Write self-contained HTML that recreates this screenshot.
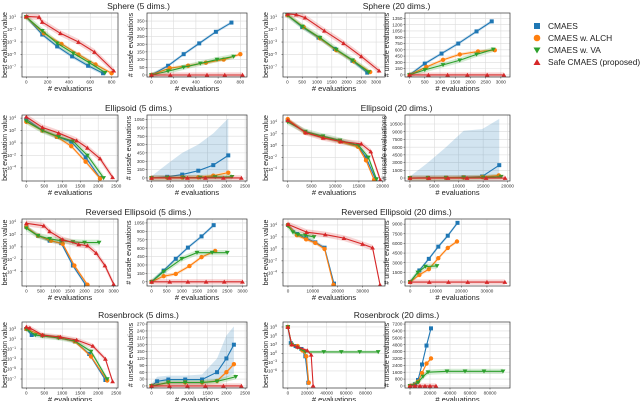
<!DOCTYPE html>
<html><head><meta charset="utf-8"><style>
html,body{margin:0;padding:0;background:#fff}
svg{display:block;font-family:"Liberation Sans","DejaVu Sans",sans-serif}
</style></head>
<body>
<svg id="fig" width="640" height="401" viewBox="0 0 640 401" xmlns="http://www.w3.org/2000/svg">
<g id="legend">
 <g><rect x="534" y="23" width="6" height="6" fill="#1f77b4"/><text x="548" y="29" font-size="8.4" fill="#222">CMAES</text></g>
 <g><circle cx="537" cy="38" r="3.3" fill="#ff7f0e"/><text x="548" y="41" font-size="8.4" fill="#222">CMAES w. ALCH</text></g>
 <g><path d="M533.5,47.5 L540.5,47.5 L537,53.5 Z" fill="#2ca02c"/><text x="548" y="53" font-size="8.4" fill="#222">CMAES w. VA</text></g>
 <g><path d="M533.5,65 L540.5,65 L537,59 Z" fill="#d62728"/><text x="548" y="65" font-size="8.4" fill="#222">Safe CMAES (proposed)</text></g>
</g>
</svg>
<script>
// ---------- data (x = # evaluations, y = value; log panels store log10 of value) ----------
// Sphere 5
const sph5_best_blue=[[0,1],[150,-1.8],[290,-3.7],[430,-5.3],[580,-6.8],[720,-8.0]];
const sph5_best_orange=[[0,1],[165,-1.6],[330,-3.3],[490,-5.0],[650,-6.6],[800,-8.0]];
const sph5_best_green=[[0,1],[150,-1.2],[290,-3.2],[440,-4.8],[590,-6.3],[740,-7.9]];
const sph5_best_red=[[0,1.1],[120,1.0],[150,0.2],[320,-1.6],[490,-3.0],[640,-4.6],[820,-7.6]];
const sph5_uns_blue=[[0,0],[150,60],[290,135],[430,205],[580,280],[720,340]];
const sph5_uns_orange=[[0,0],[165,45],[330,60],[490,80],[650,100],[800,135]];
const sph5_uns_green=[[0,0],[150,25],[290,50],[440,75],[590,100],[740,120]];
const sph5_uns_red=[[0,0],[170,0],[340,0],[500,0],[660,0],[820,0]];
// Sphere 20
const sph20_best_blue=[[0,1.3],[500,-0.6],[1050,-2.3],[1600,-4.1],[2200,-6.0],[2700,-7.9]];
const sph20_best_orange=[[0,1.3],[550,-0.6],[1100,-2.4],[1650,-4.3],[2250,-6.1],[2800,-7.8]];
const sph20_best_green=[[0,1.3],[500,-0.5],[1100,-2.3],[1650,-4.2],[2200,-5.9],[2750,-7.8]];
const sph20_best_red=[[0,1.5],[300,1.4],[600,0.9],[1250,-1.2],[1900,-3.2],[2500,-5.3],[3100,-7.6]];
const sph20_uns_blue=[[0,0],[500,270],[1050,510],[1600,750],[2200,1040],[2700,1280]];
const sph20_uns_orange=[[0,0],[550,190],[1100,360],[1650,490],[2250,560],[2800,590]];
const sph20_uns_green=[[0,0],[500,120],[1100,240],[1650,350],[2200,490],[2750,610]];
const sph20_uns_red=[[0,0],[620,0],[1250,0],[1900,0],[2550,0],[3100,0]];
// Ellipsoid 5
const ell5_best_blue=[[0,3.8],[450,2],[850,1],[1250,0.2],[1650,-2.3],[2050,-5.6]];
const ell5_best_orange=[[0,3.4],[450,2],[850,1],[1250,-0.5],[1650,-3],[2050,-5.7]];
const ell5_best_green=[[0,3.5],[450,2],[900,1],[1300,0.3],[1700,-2],[2150,-5.6]];
const ell5_best_red=[[0,4.2],[450,2.5],[900,1.6],[1400,0.4],[1700,-0.8],[2050,-2.5],[2400,-5.5]];
const ell5_uns_blue=[[0,0],[420,20],[820,60],[1250,130],[1650,230],[2050,405]];
const ell5_uns_blue_hi=[[0,30],[420,250],[820,450],[1250,600],[1650,800],[2050,1070]];
const ell5_uns_orange=[[0,0],[420,5],[820,8],[1250,12],[1650,40],[2050,95]];
const ell5_uns_green=[[0,0],[420,3],[850,5],[1300,8],[1700,15],[2150,20]];
const ell5_uns_red=[[0,0],[480,0],[960,0],[1440,0],[1920,0],[2400,0]];
// Ellipsoid 20
const ell20_best_blue=[[0,4.3],[3700,2.3],[7400,1.5],[11000,0.8],[14800,0],[16500,-2],[18500,-5.7]];
const ell20_best_orange=[[0,4.5],[3700,2.2],[7400,1.4],[11000,0.7],[14800,-0.2],[16500,-2.5],[18200,-5.8]];
const ell20_best_green=[[0,4],[3700,2.4],[7400,1.6],[11000,0.9],[15000,0],[17000,-2],[18700,-5.7]];
const ell20_best_red=[[0,4.3],[3800,2.2],[7500,1.3],[11200,0.7],[15500,0.3],[17500,-1],[19500,-5.8]];
const ell20_uns_blue=[[0,0],[3700,30],[7400,60],[11000,150],[14800,300],[18300,2500]];
const ell20_uns_blue_hi=[[0,300],[3700,3000],[7400,6000],[11000,9200],[14800,9500],[18300,11500]];
const ell20_uns_orange=[[0,0],[3700,20],[7400,40],[11000,100],[14800,200],[18200,500]];
const ell20_uns_green=[[0,0],[3700,10],[7400,20],[11000,60],[15000,120],[18700,250]];
const ell20_uns_red=[[0,0],[3900,0],[7800,0],[11700,0],[15600,0],[19500,0]];
// Reversed Ellipsoid 5
const rev5_best_blue=[[0,3.2],[400,1.8],[800,1],[1200,0.6],[1600,-3],[2050,-6.2]];
const rev5_best_orange=[[0,3.2],[400,1.8],[850,1],[1250,0.5],[1650,-3],[2100,-6.1]];
const rev5_best_green=[[0,3],[400,1.8],[800,1.3],[1200,1],[1600,0.8],[2000,0.7],[2500,0.7]];
const rev5_best_red=[[0,3.8],[600,3.4],[800,2.5],[1250,1.2],[1800,0.4],[2100,0.2],[2400,-1.0],[2700,-3],[3000,-6]];
const rev5_uns_blue=[[0,0],[400,200],[800,410],[1200,610],[1650,810],[2050,1010]];
const rev5_uns_orange=[[0,0],[400,100],[800,140],[1250,280],[1650,440],[2100,550]];
const rev5_uns_green=[[0,0],[400,180],[1000,410],[1500,520],[2000,520],[2500,520]];
const rev5_uns_red=[[0,0],[600,0],[1200,0],[1800,0],[2400,0],[3000,0]];
// Reversed Ellipsoid 20
const rev20_best_blue=[[0,4],[3600,2.5],[7300,1.8],[11000,1.1],[14700,0.2],[18500,-5.8]];
const rev20_best_orange=[[0,4],[3600,2.3],[7300,1.6],[11000,1],[14700,0],[18300,-6]];
const rev20_best_green=[[0,3.8],[2000,2.8],[4000,2.4],[7000,2.3],[10500,2.0]];
const rev20_best_red=[[0,4.1],[7500,2.8],[15000,2.4],[22500,1.8],[30000,0.8],[34000,0.2],[37000,-6]];
const rev20_uns_blue=[[0,0],[3600,1800],[7300,3600],[11000,5500],[14700,7200],[18500,9200]];
const rev20_uns_orange=[[0,0],[3600,1100],[7300,2000],[11000,3700],[14700,5300],[18300,6300]];
const rev20_uns_green=[[0,0],[3000,1500],[6000,2400],[10500,2500]];
const rev20_uns_red=[[0,0],[7500,0],[15000,0],[22500,0],[30000,0],[37000,0]];
// Rosenbrock 5
const ros5_best_blue=[[0,3],[150,1.8],[450,1.7],[900,1.3],[1350,0.5],[1750,-2],[2200,-7.2]];
const ros5_best_orange=[[0,3],[450,1.7],[900,1.3],[1350,0.5],[1800,-2.5],[2250,-7.3]];
const ros5_best_green=[[0,3],[250,1.8],[450,1.6],[900,1.2],[1350,0.6],[1800,-1.5],[2250,-7]];
const ros5_best_red=[[0,3.4],[100,3.2],[450,1.8],[950,1.4],[1400,0.8],[1850,-0.4],[2200,-3],[2400,-7.5]];
const ros5_uns_blue=[[0,0],[150,20],[450,28],[900,28],[1350,28],[1750,60],[2000,120],[2200,180]];
const ros5_uns_blue_hi=[[0,10],[150,40],[450,45],[900,45],[1350,50],[1750,120],[2000,220],[2200,260]];
const ros5_uns_orange=[[0,0],[450,15],[900,15],[1350,15],[1750,22],[2000,60],[2200,95]];
const ros5_uns_green=[[0,0],[450,15],[900,15],[1350,15],[1750,20],[2250,40]];
const ros5_uns_red=[[0,0],[480,0],[960,0],[1440,0],[1920,0],[2400,0]];
// Rosenbrock 20
const ros20_best_blue=[[0,9],[3000,3.5],[8000,2.5],[14000,1.5],[18000,-1],[21000,-10]];
const ros20_best_orange=[[0,9],[4000,3],[10000,2.5],[15000,1],[19000,-1],[21500,-10]];
const ros20_best_green=[[0,9],[4000,3],[10000,2.0],[18000,0.5],[37000,0.5],[55000,0.5],[74000,0.5],[93000,0.5]];
const ros20_best_red=[[0,9],[4000,3],[10000,2.2],[20000,1],[24000,-0.5],[26000,-11]];
const ros20_uns_blue=[[0,0],[5000,200],[8000,700],[12000,2500],[16500,4700],[21000,6700]];
const ros20_uns_orange=[[0,0],[8000,500],[12000,1500],[16500,2600],[21000,3200]];
const ros20_uns_green=[[0,0],[8000,400],[13000,1100],[18000,1600],[37000,1700],[55000,1700],[74000,1700],[93000,1700]];
const ros20_uns_red=[[0,0],[5000,0],[10000,0],[15000,0],[20000,0],[26000,0]];

// ---------- tick labels ----------
const xt_sph5=[0,200,400,600,800];
const xt_sph20=[0,500,1000,1500,2000,2500,3000];
const xt_2500=[0,500,1000,1500,2000,2500];
const xt_ell20=[0,5000,10000,15000,20000];
const xt_3000=[0,500,1000,1500,2000,2500,3000];
const xt_rev20=[0,10000,20000,30000];
const xt_ros20=[0,20000,40000,60000,80000];
const yt_log_sph=[1,-1,-3,-5,-7];
const yt_log_ell=[4,2,0,-2,-4];
const yt_log_ros5=[3,1,-1,-3,-5,-7];
const yt_log_ros20=[9,6,3,0,-3,-6];
const yt_uns_sph5=[0,50,100,150,200,250,300,350];
const yt_uns_sph20=[0,150,300,450,600,750,900,1050,1200,1350];
const yt_uns_1050=[0,150,300,450,600,750,900,1050];
const yt_uns_ell20=[0,1500,3000,4500,6000,7500,9000,10500];
const yt_uns_rev20=[0,1500,3000,4500,6000,7500,9000];
const yt_uns_ros5=[0,30,60,90,120,150,180,210,240,270];
const yt_uns_ros20=[0,800,1600,2400,3200,4000,4800,5600,6400,7200];

// ---------- layout ----------
const COLS={A:[22,118],B:[147,247],C:[283,385],D:[405,510]};
const ROWS=[[13,77],[115,181],[219,286],[322,388]];
const COLORS={blue:'#1f77b4',orange:'#ff7f0e',green:'#2ca02c',red:'#d62728'};
const MARK={blue:'sq',orange:'ci',green:'td',red:'tu'};
const NS='http://www.w3.org/2000/svg';
const svg=document.getElementById('fig');
function el(tag,attrs,parent){const e=document.createElementNS(NS,tag);for(const k in attrs)e.setAttribute(k,attrs[k]);(parent||svg).appendChild(e);return e;}

const panels=[
 {id:'sphere-5-best',col:'A',row:0,log:true,xd:[-40,860],yd:[-8.6,1.65],xt:xt_sph5,yt:yt_log_sph,s:{blue:sph5_best_blue,orange:sph5_best_orange,green:sph5_best_green,red:sph5_best_red}},
 {id:'sphere-5-unsafe',col:'B',row:0,log:false,xd:[-40,860],yd:[-13,402],xt:xt_sph5,yt:yt_uns_sph5,s:{blue:sph5_uns_blue,orange:sph5_uns_orange,green:sph5_uns_green,red:sph5_uns_red}},
 {id:'sphere-20-best',col:'C',row:0,log:true,xd:[-150,3300],yd:[-8.6,1.65],xt:xt_sph20,yt:yt_log_sph,s:{blue:sph20_best_blue,orange:sph20_best_orange,green:sph20_best_green,red:sph20_best_red}},
 {id:'sphere-20-unsafe',col:'D',row:0,log:false,xd:[-150,3300],yd:[-50,1480],xt:xt_sph20,yt:yt_uns_sph20,s:{blue:sph20_uns_blue,orange:sph20_uns_orange,green:sph20_uns_green,red:sph20_uns_red}},
 {id:'ellipsoid-5-best',col:'A',row:1,log:true,xd:[-120,2550],yd:[-6.1,4.5],xt:xt_2500,yt:yt_log_ell,s:{blue:ell5_best_blue,orange:ell5_best_orange,green:ell5_best_green,red:ell5_best_red}},
 {id:'ellipsoid-5-unsafe',col:'B',row:1,log:false,xd:[-120,2550],yd:[-55,1130],xt:xt_2500,yt:yt_uns_1050,hi:{blue:ell5_uns_blue_hi},s:{blue:ell5_uns_blue,orange:ell5_uns_orange,green:ell5_uns_green,red:ell5_uns_red}},
 {id:'ellipsoid-20-best',col:'C',row:1,log:true,xd:[-1000,20500],yd:[-6,5.2],xt:xt_ell20,yt:yt_log_ell,s:{blue:ell20_best_blue,orange:ell20_best_orange,green:ell20_best_green,red:ell20_best_red}},
 {id:'ellipsoid-20-unsafe',col:'D',row:1,log:false,xd:[-1000,20500],yd:[-580,12250],xt:xt_ell20,yt:yt_uns_ell20,hi:{blue:ell20_uns_blue_hi},s:{blue:ell20_uns_blue,orange:ell20_uns_orange,green:ell20_uns_green,red:ell20_uns_red}},
 {id:'reversed-ellipsoid-5-best',col:'A',row:2,log:true,xd:[-150,3150],yd:[-6.3,4.5],xt:xt_3000,yt:yt_log_ell,s:{blue:rev5_best_blue,orange:rev5_best_orange,green:rev5_best_green,red:rev5_best_red}},
 {id:'reversed-ellipsoid-5-unsafe',col:'B',row:2,log:false,xd:[-150,3150],yd:[-75,1120],xt:xt_3000,yt:yt_uns_1050,s:{blue:rev5_uns_blue,orange:rev5_uns_orange,green:rev5_uns_green,red:rev5_uns_red}},
 {id:'reversed-ellipsoid-20-best',col:'C',row:2,log:true,xd:[-2000,39000],yd:[-6.2,5],xt:xt_rev20,yt:yt_log_ell,s:{blue:rev20_best_blue,orange:rev20_best_orange,green:rev20_best_green,red:rev20_best_red}},
 {id:'reversed-ellipsoid-20-unsafe',col:'D',row:2,log:false,xd:[-2000,39000],yd:[-620,9800],xt:xt_rev20,yt:yt_uns_rev20,s:{blue:rev20_uns_blue,orange:rev20_uns_orange,green:rev20_uns_green,red:rev20_uns_red}},
 {id:'rosenbrock-5-best',col:'A',row:3,log:true,xd:[-120,2550],yd:[-8.8,4.4],xt:xt_2500,yt:yt_log_ros5,s:{blue:ros5_best_blue,orange:ros5_best_orange,green:ros5_best_green,red:ros5_best_red}},
 {id:'rosenbrock-5-unsafe',col:'B',row:3,log:false,xd:[-120,2550],yd:[-9,279],xt:xt_2500,yt:yt_uns_ros5,hi:{blue:ros5_uns_blue_hi},s:{blue:ros5_uns_blue,orange:ros5_uns_orange,green:ros5_uns_green,red:ros5_uns_red}},
 {id:'rosenbrock-20-best',col:'C',row:3,log:true,xd:[-5000,100000],yd:[-11.8,10.7],xt:xt_ros20,yt:yt_log_ros20,s:{blue:ros20_best_blue,orange:ros20_best_orange,green:ros20_best_green,red:ros20_best_red}},
 {id:'rosenbrock-20-unsafe',col:'D',row:3,log:false,xd:[-5000,100000],yd:[-236,7440],xt:xt_ros20,yt:yt_uns_ros20,s:{blue:ros20_uns_blue,orange:ros20_uns_orange,green:ros20_uns_green,red:ros20_uns_red}}
];
const titles=[['Sphere (5 dims.)','Sphere (20 dims.)'],['Ellipsoid (5 dims.)','Ellipsoid (20 dims.)'],['Reversed Ellipsoid (5 dims.)','Reversed Ellipsoid (20 dims.)'],['Rosenbrock (5 dims.)','Rosenbrock (20 dims.)']];

ROWS.forEach((r,i)=>{
 [[COLS.A[0],COLS.B[1],0],[COLS.C[0],COLS.D[1],1]].forEach(([a,b,j])=>{
  const t=el('text',{x:(a+b)/2+(j?0:4),y:r[0]-4,'font-size':8.5,'text-anchor':'middle',fill:'#222'});
  
  
  t.textContent=titles[i][j];
 });
});

function marker(g,kind,x,y,c){
 let m;
 if(kind==='sq')m=el('rect',{x:x-2,y:y-2,width:4,height:4,fill:c},g);
 else if(kind==='ci')m=el('circle',{cx:x,cy:y,r:2.2,fill:c},g);
 else if(kind==='td')m=el('path',{d:`M${x-2.4},${y-1.8} L${x+2.4},${y-1.8} L${x},${y+2.2} Z`,fill:c},g);
 else m=el('path',{d:`M${x-2.4},${y+1.8} L${x+2.4},${y+1.8} L${x},${y-2.2} Z`,fill:c},g);
 
 
}

panels.forEach(p=>{
 const [L,R]=COLS[p.col],[T,B]=ROWS[p.row];
 const sx=v=>L+(v-p.xd[0])/(p.xd[1]-p.xd[0])*(R-L);
 const sy=v=>B-(v-p.yd[0])/(p.yd[1]-p.yd[0])*(B-T);
 const g=el('g',{});
 
 
 const clipId='c_'+p.id;
 const cp=el('clipPath',{id:clipId},g);el('rect',{x:L,y:T,width:R-L,height:B-T},cp);
 p.xt.forEach(v=>{const x=sx(v);el('line',{x1:x,x2:x,y1:T,y2:B,stroke:'#dcdcdc','stroke-width':0.6},g);
  const t=el('text',{x:x,y:B+6.5,'font-size':4.6,'text-anchor':'middle',fill:'#333'},g);
  
  
  t.textContent=v;
  el('line',{x1:x,x2:x,y1:B,y2:B+1.5,stroke:'#333','stroke-width':0.5},g);});
 let maxLen=0;
 p.yt.forEach(v=>{const y=sy(v);el('line',{x1:L,x2:R,y1:y,y2:y,stroke:'#dcdcdc','stroke-width':0.6},g);
  el('line',{x1:L-1.5,x2:L,y1:y,y2:y,stroke:'#333','stroke-width':0.5},g);
  const t=el('text',{x:L-2.5,y:y+1.6,'font-size':4.6,'text-anchor':'end',fill:'#333'},g);
  
  
  if(p.log){t.textContent='10';const s=el('tspan',{dy:-1.8,'font-size':3.4},t);s.textContent=String(v).replace('-','−');t.setAttribute('x',L-6);}
  else {t.textContent=v;maxLen=Math.max(maxLen,String(v).length);}});
 const band=p.log?0.3:(p.yd[1]-p.yd[0])*0.025;
 const cg=el('g',{'clip-path':`url(#${clipId})`},g);
 ['blue','orange','green','red'].forEach(k=>{
  const d=p.s[k],c=COLORS[k];
  const sg=el('g',{},cg);
  
  
  const hi=p.hi&&p.hi[k];
  const wide=(k==='red'||k==='green')?1.6:1;
  const up=d.map((q,i)=>[q[0],hi?hi[i][1]:q[1]+band*wide]);
  const lo=d.map(q=>[q[0],hi?q[1]*0.3:q[1]-band*wide]);
  const pts=up.concat(lo.slice().reverse()).map(q=>sx(q[0])+','+sy(q[1])).join(' ');
  el('polygon',{points:pts,fill:c,'fill-opacity':0.2,stroke:'none'},sg);
  el('polyline',{points:d.map(q=>sx(q[0])+','+sy(q[1])).join(' '),fill:'none',stroke:c,'stroke-width':1.1,'stroke-linejoin':'round'},sg);
  d.forEach(q=>marker(sg,MARK[k],sx(q[0]),sy(q[1]),c));
 });
 el('rect',{x:L,y:T,width:R-L,height:B-T,fill:'none',stroke:'#333','stroke-width':0.7},g);
 const xl=el('text',{x:(L+R)/2,y:B+14,'font-size':7.5,'text-anchor':'middle',fill:'#222'},g);
 
 
 xl.textContent='# evaluations';
 const ylx=L-(p.log?15:Math.max(14,5+maxLen*2.7));
 const yl=el('text',{x:ylx,y:(T+B)/2,'font-size':7,'text-anchor':'middle',fill:'#222',transform:`rotate(-90 ${ylx} ${(T+B)/2})`},g);
 
 
 yl.textContent=p.log?'best evaluation value':'# unsafe evaluations';
});
svg.appendChild(document.getElementById('legend'));
</script>
</body></html>
